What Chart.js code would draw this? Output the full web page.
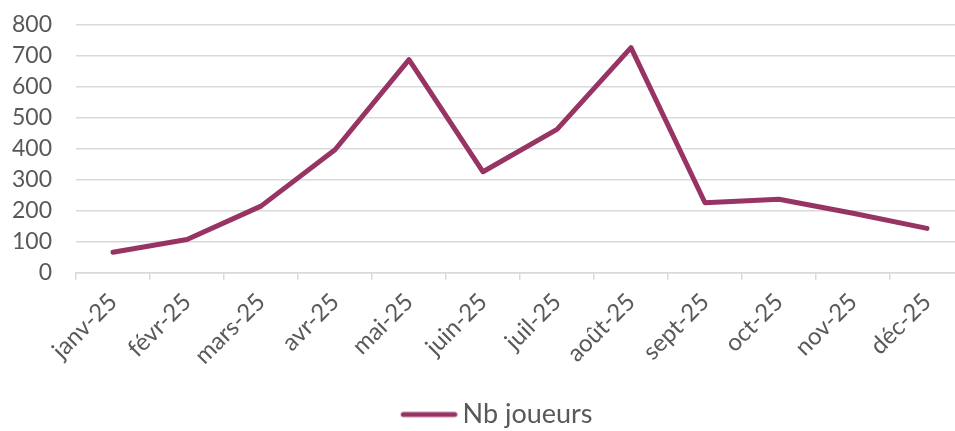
<!DOCTYPE html>
<html>
<head>
<meta charset="utf-8">
<script src="https://cdn.jsdelivr.net/npm/chart.js@4"></script>
<style>
  html, body { margin: 0; padding: 0; background: #fff; overflow: hidden; }
  #wrap { width: 970px; height: 431px; position: relative; }
</style>
</head>
<body>
<div id="wrap"><canvas id="chart"></canvas></div>
<script>
const months = ["janv-25", "févr-25", "mars-25", "avr-25", "mai-25", "juin-25",
                "juil-25", "août-25", "sept-25", "oct-25", "nov-25", "déc-25"];
const players = [66, 107, 215, 397, 688, 326, 463, 727, 226, 237, 192, 143];
const yMax = 800;
const yStep = 100;

const LINE = "#983463";
const TEXT = "#595959";
const GRID = "#d9d9d9";
const FONT = "Lato, 'Open Sans', sans-serif";

// legend swatch: a short thick line sitting at the right of a wider box
function legendSwatch() {
    const c = document.createElement("canvas");
    c.width = 95;
    c.height = 8;
    const g = c.getContext("2d");
    g.strokeStyle = LINE;
    g.lineWidth = 5;
    g.lineCap = "round";
    g.beginPath();
    g.moveTo(40.5, 4);
    g.lineTo(92, 4);
    g.stroke();
    return c;
}

new Chart(document.getElementById("chart"), {
    type: "line",
    data: {
        labels: months,
        datasets: [{
            label: "Nb joueurs",
            data: players,
            borderColor: LINE,
            backgroundColor: LINE,
            borderWidth: 5,
            borderCapStyle: "round",
            borderJoinStyle: "round",
            pointRadius: 0,
            tension: 0,
        }]
    },
    options: {
        animation: false,
        responsive: true,
        maintainAspectRatio: false,
        layout: { padding: { top: 25, right: 6, bottom: -7, left: 0 } },
        plugins: {
            tooltip: { enabled: false },
            legend: {
                position: "bottom",
                labels: {
                    usePointStyle: true,
                    pointStyle: legendSwatch(),
                    pointStyleWidth: 77.5,
                    padding: 5,
                    color: TEXT,
                    font: { family: FONT, size: 27 },
                }
            }
        },
        scales: {
            x: {
                offset: true,
                grid: {
                    offset: true,
                    drawOnChartArea: false,
                    drawTicks: true,
                    tickLength: 7,
                    color: GRID,
                    lineWidth: 1.5,
                },
                border: { display: true, color: GRID, width: 1.5 },
                ticks: {
                    color: TEXT,
                    font: { family: FONT, size: 24 },
                    minRotation: 45,
                    maxRotation: 45,
                    padding: 8,
                    autoSkip: false,
                },
                afterFit: (scale) => { scale.height = 123.3; },
            },
            y: {
                min: 0,
                max: yMax,
                grid: {
                    color: GRID,
                    lineWidth: 1.5,
                    drawTicks: true,
                    tickLength: 20,
                    tickColor: "rgba(0,0,0,0)",
                },
                border: { display: false },
                ticks: {
                    stepSize: yStep,
                    autoSkip: false,
                    color: TEXT,
                    font: { family: FONT, size: 23 },
                    padding: 4,
                },
                afterFit: (scale) => { scale.width = 76; },
            }
        }
    }
});
</script>
</body>
</html>
